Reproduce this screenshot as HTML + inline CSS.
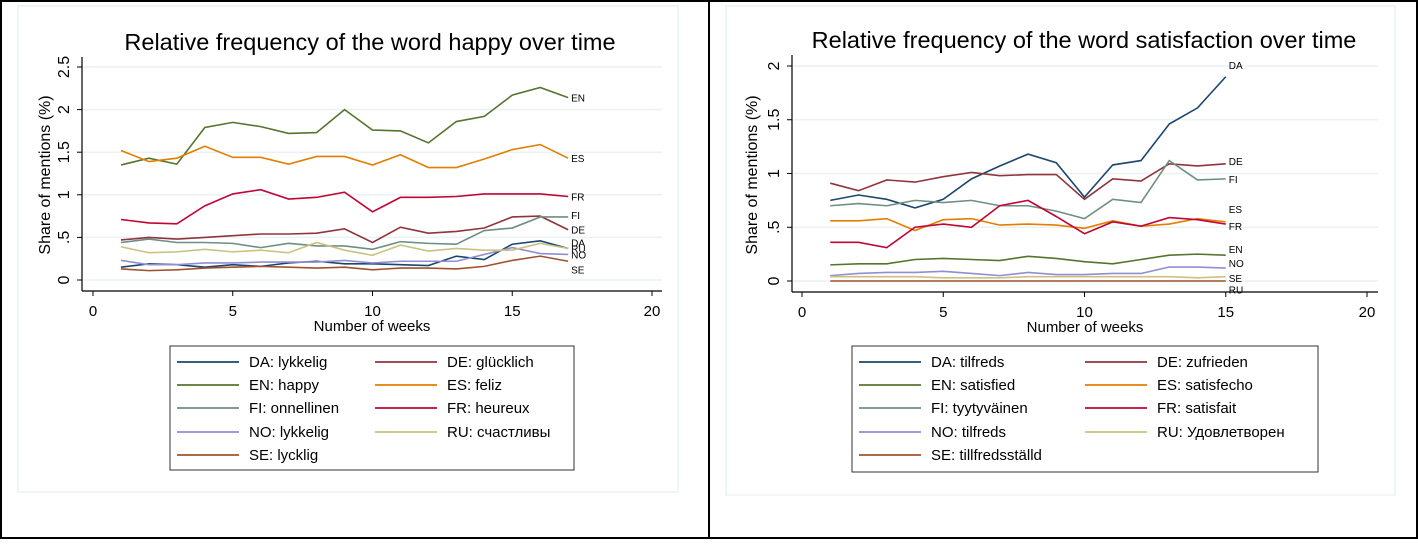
<!DOCTYPE html>
<html><head><meta charset="utf-8">
<style>
html,body{margin:0;padding:0;background:#fff;}
body{width:1418px;height:539px;overflow:hidden;font-family:"Liberation Sans",sans-serif;}
svg text{font-family:"Liberation Sans","Noto Sans CJK JP",sans-serif;}
</style></head><body>
<svg id="s" width="1418" height="539" xmlns="http://www.w3.org/2000/svg">
<rect x="1" y="1" width="1416" height="537" fill="#fff" stroke="#000" stroke-width="2"/>
<line x1="709" y1="0" x2="709" y2="539" stroke="#000" stroke-width="2"/>
</svg>
<script>
const weeksL=[1,2,3,4,5,6,7,8,9,10,11,12,13,14,15,16,17];
const happyDA=[.15,.19,.18,.15,.18,.16,.20,.22,.19,.19,.18,.17,.28,.24,.42,.46,.37];
const happyDE=[.47,.50,.48,.50,.52,.54,.54,.55,.60,.44,.62,.55,.57,.61,.74,.75,.59];
const happyEN=[1.35,1.43,1.36,1.79,1.85,1.80,1.72,1.73,2.0,1.76,1.75,1.61,1.86,1.92,2.17,2.26,2.14];
const happyES=[1.52,1.39,1.43,1.57,1.44,1.44,1.36,1.45,1.45,1.35,1.47,1.32,1.32,1.42,1.53,1.59,1.43];
const happyFI=[.44,.48,.44,.44,.43,.38,.43,.40,.40,.36,.45,.43,.42,.58,.61,.74,.74];
const happyFR=[.71,.67,.66,.87,1.01,1.06,.95,.97,1.03,.80,.97,.97,.98,1.01,1.01,1.01,.98];
const happyNO=[.23,.18,.18,.20,.20,.21,.21,.21,.23,.20,.22,.22,.22,.30,.38,.31,.30];
const happyRU=[.39,.32,.33,.36,.33,.35,.32,.44,.35,.29,.41,.34,.37,.35,.35,.43,.37];
const happySE=[.13,.11,.12,.14,.15,.16,.15,.14,.15,.12,.14,.14,.13,.16,.23,.28,.22];
const weeksR=[1,2,3,4,5,6,7,8,9,10,11,12,13,14,15];
const satDA=[.75,.80,.76,.68,.76,.95,1.07,1.18,1.10,.78,1.08,1.12,1.46,1.61,1.90];
const satDE=[.91,.84,.94,.92,.97,1.01,.98,.99,.99,.76,.95,.93,1.09,1.07,1.09];
const satEN=[.15,.16,.16,.20,.21,.20,.19,.23,.21,.18,.16,.20,.24,.25,.24];
const satES=[.56,.56,.58,.47,.57,.58,.52,.53,.52,.49,.56,.51,.53,.58,.55];
const satFI=[.70,.72,.70,.75,.73,.75,.70,.70,.65,.58,.76,.73,1.12,.94,.95];
const satFR=[.36,.36,.31,.50,.53,.50,.70,.75,.60,.44,.55,.51,.59,.57,.53];
const satNO=[.05,.07,.08,.08,.09,.07,.05,.08,.06,.06,.07,.07,.13,.13,.12];
const satRU=[.04,.04,.04,.04,.03,.03,.03,.04,.04,.04,.04,.04,.04,.03,.04];
const satSE=[0,0,0,0,0,0,0,0,0,0,0,0,0,0,0];
const xTicks=[0,5,10,15,20];
const yTicksL=[0,.5,1,1.5,2,2.5];
const yTickLabelsL=["0",".5","1","1.5","2","2.5"];
const yTicksR=[0,.5,1,1.5,2];
const yTickLabelsR=["0",".5","1","1.5","2"];
const codes=["DA","DE","EN","ES","FI","FR","NO","RU","SE"];
const wordsL=["lykkelig","glücklich","happy","feliz","onnellinen","heureux","lykkelig","счастливы","lycklig"];
const wordsR=["tilfreds","zufrieden","satisfied","satisfecho","tyytyväinen","satisfait","tilfreds","Удовлетворен","tillfredsställd"];
const colors={DA:"#1a476f",DE:"#90353b",EN:"#55752f",ES:"#e37e00",FI:"#6e8e84",FR:"#c10534",NO:"#938dd2",RU:"#cac27e",SE:"#a0522d"};

const svg=document.getElementById('s');
const NS="http://www.w3.org/2000/svg";
function mk(tag,attrs,parent){const e=document.createElementNS(NS,tag);for(const k in attrs)e.setAttribute(k,attrs[k]);(parent||svg).appendChild(e);return e;}

function panel(cfg){
  const g=mk('g',{});
  
  
  const fr=mk('rect',{x:cfg.box[0],y:cfg.box[1],width:cfg.box[2],height:cfg.box[3],fill:'#fff',stroke:'#eaf2f3','stroke-width':1.5},g);
  
  
  const sx=v=>cfg.x0+(v-0)*(cfg.x20-cfg.x0)/20;
  const sy=v=>cfg.y0-v*cfg.yUnit;
  cfg.yTicks.forEach((t,i)=>{
    const gl=mk('line',{x1:cfg.axX+1,x2:cfg.right,y1:sy(t),y2:sy(t),stroke:'#eaf2f3','stroke-width':1.5},g);
    
    
    mk('line',{x1:cfg.axX-5,x2:cfg.axX,y1:sy(t),y2:sy(t),stroke:'#000','stroke-width':1},g);
    const tx=mk('text',{x:cfg.axX-13,y:sy(t),'font-size':16,'text-anchor':'middle',transform:`rotate(-90 ${cfg.axX-13} ${sy(t)})`},g);
    tx.textContent=cfg.yLabels[i];
    
    
  });
  mk('line',{x1:cfg.axX,x2:cfg.axX,y1:cfg.top,y2:cfg.axY,stroke:'#000','stroke-width':1.2},g);
  mk('line',{x1:cfg.axX,x2:cfg.right,y1:cfg.axY,y2:cfg.axY,stroke:'#000','stroke-width':1.2},g);
  xTicks.forEach(t=>{
    mk('line',{x1:sx(t),x2:sx(t),y1:cfg.axY,y2:cfg.axY+5,stroke:'#000','stroke-width':1},g);
    const tx=mk('text',{x:sx(t),y:cfg.axY+25,'font-size':15,'text-anchor':'middle'},g);
    tx.textContent=t;
    
    
  });
  const xt=mk('text',{x:(cfg.axX+cfg.right)/2,y:cfg.axY+40,'font-size':15,'text-anchor':'middle'},g);
  xt.textContent='Number of weeks';
  
  
  const yt=mk('text',{x:cfg.ytX,y:175,'font-size':16,'text-anchor':'middle',transform:`rotate(-90 ${cfg.ytX} 175)`},g);
  yt.textContent='Share of mentions (%)';
  
  
  const ti=mk('text',{x:cfg.titleX,y:cfg.titleY,'font-size':23.5,'text-anchor':'middle'},g);
  ti.textContent=cfg.title;
  
  
  cfg.series.forEach((vals,k)=>{
    const c=codes[k];
    const pts=vals.map((v,i)=>sx(cfg.weeks[i])+','+sy(v)).join(' ');
    const pl=mk('polyline',{points:pts,fill:'none',stroke:colors[c],'stroke-width':1.6},g);
    
    
    const last=vals[vals.length-1];
    const lb=mk('text',{x:sx(cfg.weeks[cfg.weeks.length-1])+3,y:sy(last)+cfg.lblOff[c]+4,'font-size':10},g);
    lb.textContent=c;
    
    
  });
  const L=cfg.legend;
  const lr=mk('rect',{x:L.x,y:L.y,width:L.w,height:L.h,fill:'#fff',stroke:'#333','stroke-width':1},g);
  
  
  const rows=[362,385,408,432,455];
  codes.forEach((c,k)=>{
    const col=k%2,row=Math.floor(k/2);
    const lx=L.cols[col],yy=rows[row];
    mk('line',{x1:lx,x2:lx+62,y1:yy,y2:yy,stroke:colors[c],'stroke-width':1.8},g);
    const t=mk('text',{x:lx+72,y:yy+5,'font-size':15},g);
    t.textContent=c+': '+cfg.words[k];
    
    
  });
}

panel({name:'happy-chart',box:[18,6,660,486],x0:93,x20:652,y0:280,yUnit:85.2,axX:82,axY:291,top:57,right:662,
  yTicks:yTicksL,yLabels:yTickLabelsL,ytX:50,title:'Relative frequency of the word happy over time',titleX:370,titleY:50,
  weeks:weeksL,series:[happyDA,happyDE,happyEN,happyES,happyFI,happyFR,happyNO,happyRU,happySE],words:wordsL,
  lblOff:{DA:-6,DE:0,EN:0,ES:0,FI:-2,FR:0,NO:0,RU:0,SE:8},
  legend:{x:170,y:346,w:404,h:124,cols:[177,375]}});
panel({name:'satisfaction-chart',box:[726,6,669,489],x0:802,x20:1367,y0:281,yUnit:107.5,axX:792,axY:292,top:55,right:1378,
  yTicks:yTicksR,yLabels:yTickLabelsR,ytX:757,title:'Relative frequency of the word satisfaction over time',titleX:1084,titleY:48,
  weeks:weeksR,series:[satDA,satDE,satEN,satES,satFI,satFR,satNO,satRU,satSE],words:wordsR,
  lblOff:{DA:-12,DE:-3,EN:-6,ES:-13,FI:0,FR:2,NO:-5,RU:13,SE:-3},
  legend:{x:852,y:346,w:466,h:126,cols:[859,1085]}});
</script>
</body></html>
